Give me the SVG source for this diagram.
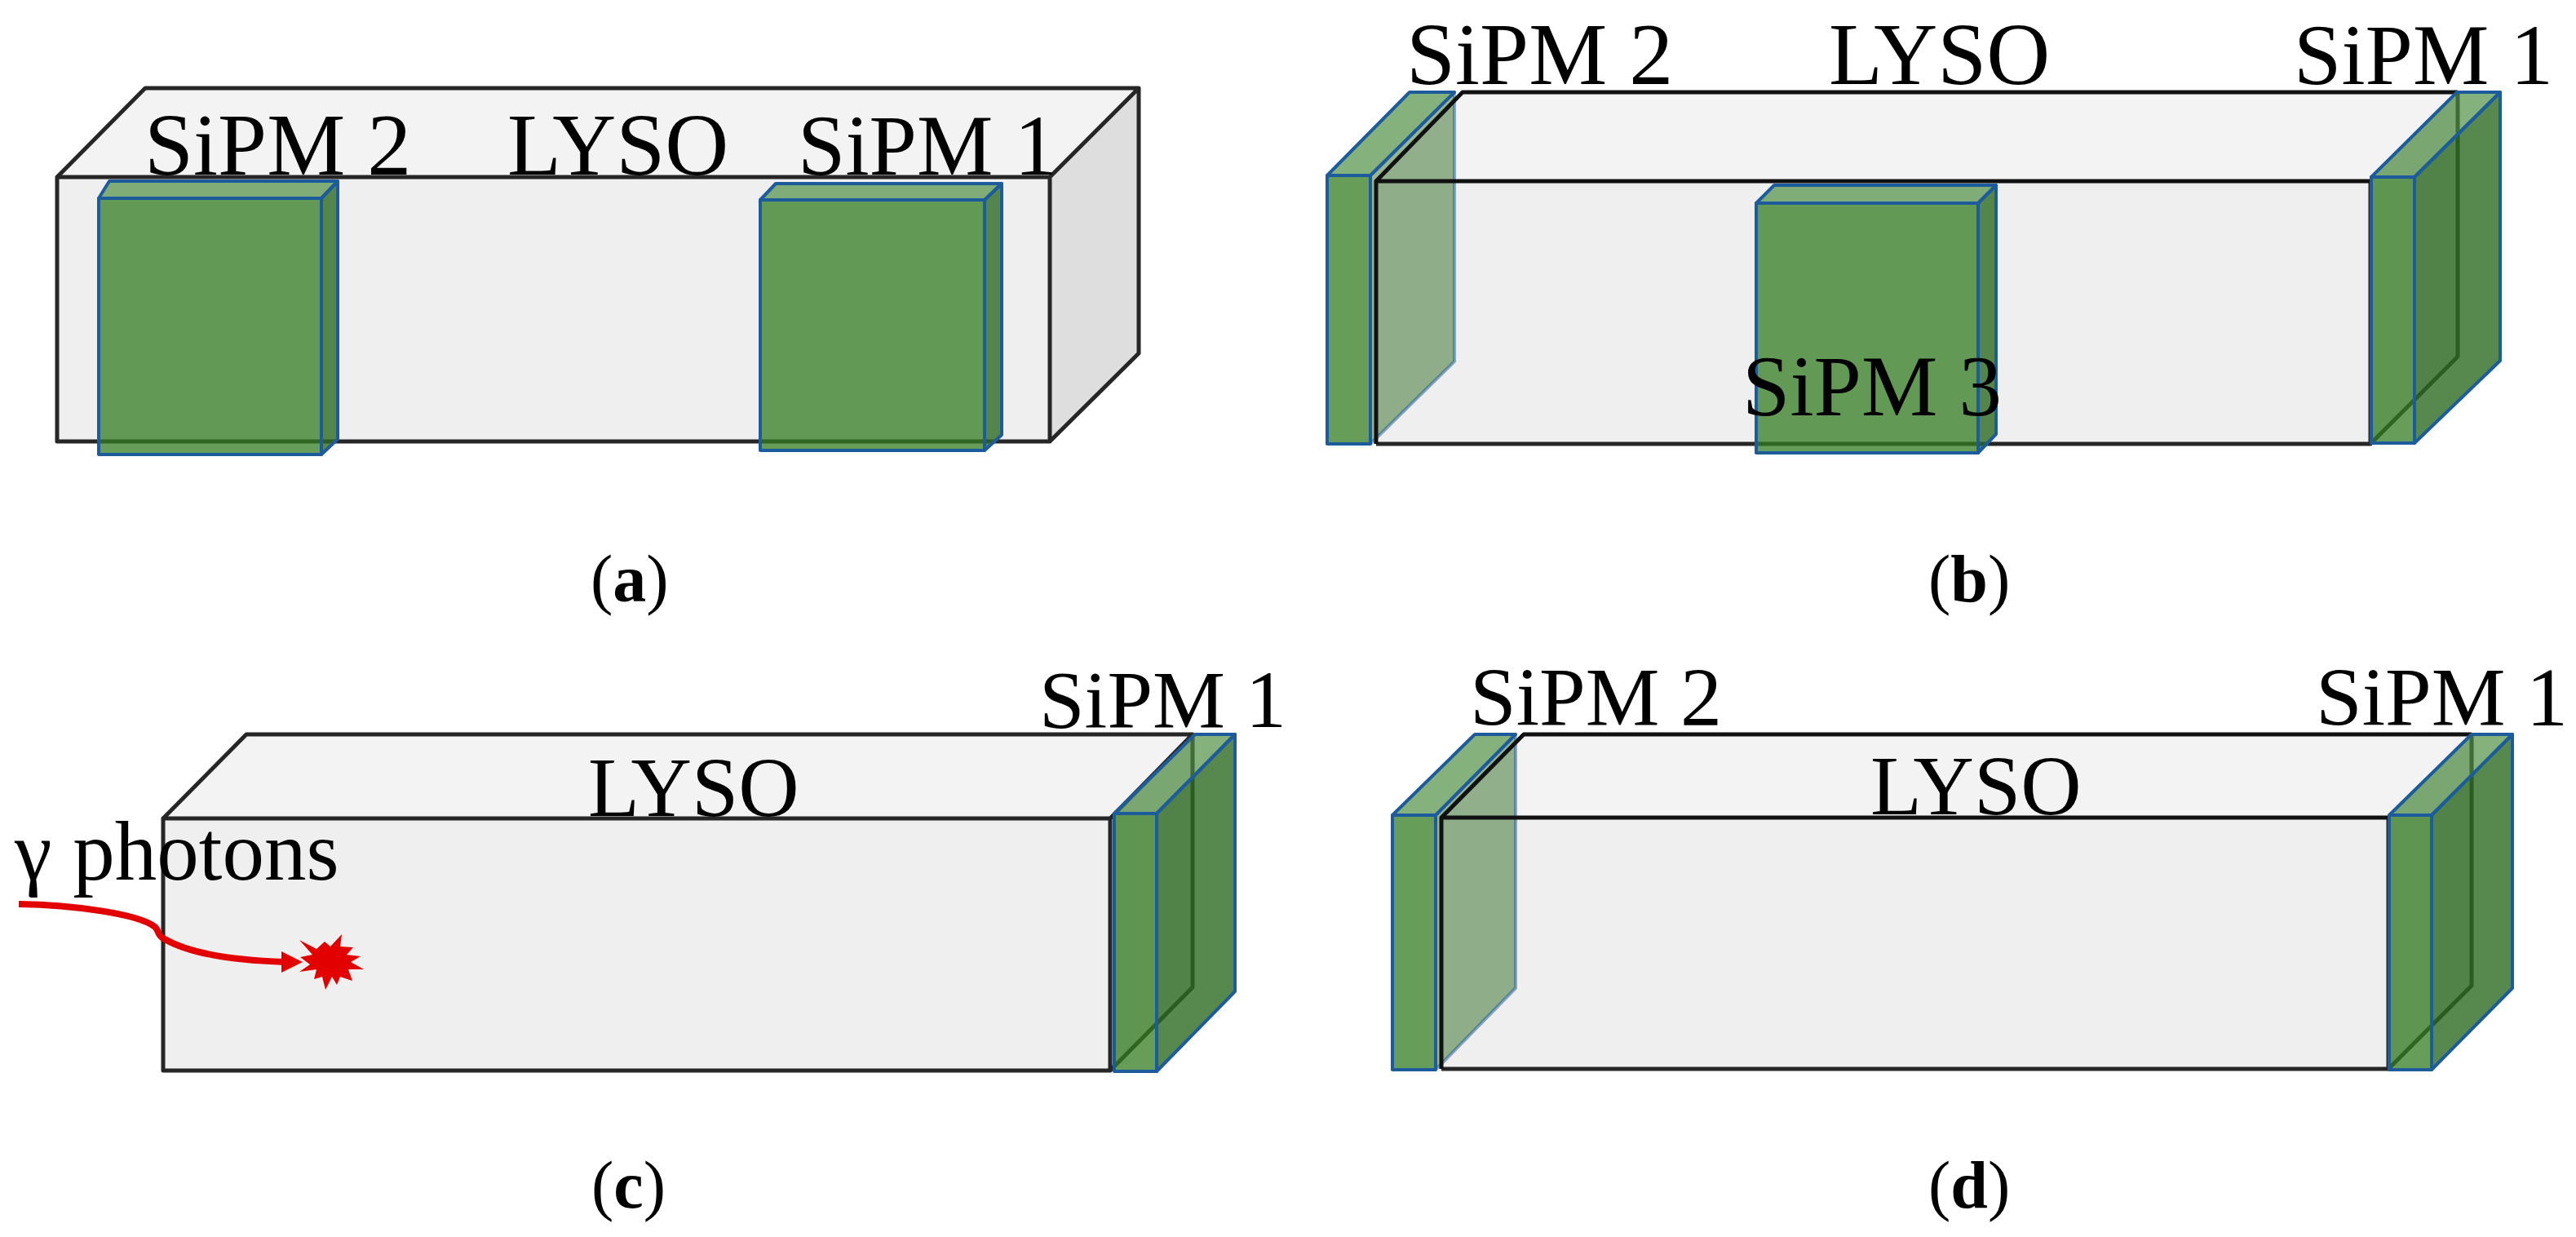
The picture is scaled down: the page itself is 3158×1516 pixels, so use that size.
<svg xmlns="http://www.w3.org/2000/svg" width="3158" height="1516" viewBox="0 0 3158 1516">
<style>
text{font-family:"Liberation Serif","Times New Roman",serif;fill:#000}
.xl{font-size:108px}.l{font-size:105px}.n{font-size:103px}.m{font-size:102px}.c{font-size:82px}
.f{fill:#efefef}.t{fill:#f3f3f3}.s{fill:#dedede}
.e{fill:none;stroke:#262626;stroke-width:5;stroke-linejoin:round}
.k{stroke:#111}
.gf{fill:#337e22;fill-opacity:.75;stroke:#1d5c9c;stroke-width:4;stroke-linejoin:round}
.gt{fill:#4a8c3e;fill-opacity:.68;stroke:#1d5c9c;stroke-width:4;stroke-linejoin:round}
.gs{fill:#2d6b22;fill-opacity:.8;stroke:#1d5c9c;stroke-width:4;stroke-linejoin:round}
.gb{fill:#2d6b22;fill-opacity:.5;stroke:#1d5c9c;stroke-opacity:.5;stroke-width:4;stroke-linejoin:round}
</style>
<g id="panel-a">
<g id="a-lyso">
<polygon class="t" points="70,217 178,108 1396,108 1287,217"/>
<polygon class="s" points="1287,217 1396,108 1396,433 1287,541"/>
<rect class="f" x="70" y="217" width="1217" height="324"/>
<path class="e" d="M70,217H1287V541H70ZM70,217L178,108H1396L1287,217M1396,108V433L1287,541"/>
</g>
<g id="a-sipm2">
<polygon class="gs" points="394,243 414,222 414,538 394,557"/>
<polygon class="gt" points="121,243 134,222 414,222 394,243"/>
<rect class="gf" x="121" y="243" width="273" height="314"/>
</g>
<g id="a-sipm1">
<polygon class="gs" points="1207,245 1228,225 1228,533 1207,552"/>
<polygon class="gt" points="932,245 951,225 1228,225 1207,245"/>
<rect class="gf" x="932" y="245" width="275" height="307"/>
</g>
<text class="xl" x="177" y="214">SiPM 2</text>
<text class="xl" x="622" y="214">LYSO</text>
<text class="l" x="978" y="214">SiPM 1</text>
<text class="c" x="724" y="737">(<tspan font-weight="bold">a</tspan>)</text>
</g>
<g id="panel-b">
<g id="b-lyso">
<polygon class="t" points="1687,222 1793,113 3013,113 2906,222"/>
<polygon class="s" points="2906,222 3013,113 3013,437 2906,544"/>
<rect class="f" x="1687" y="222" width="1219" height="322"/>
<path class="e" d="M1687,544H2906V222M2906,544L3013,437V113"/>
</g>
<g id="b-sipm2">
<polygon class="gb" points="1680,215 1783,113 1783,443 1680,544"/>
<polygon class="gt" points="1627,215 1728,113 1783,113 1680,215"/>
<rect class="gf" x="1627" y="215" width="53" height="329"/>
</g>
<path class="e k" d="M1687,544V222H2906M1687,222L1793,113H3013"/>
<g id="b-sipm1">
<polygon class="gs" points="2960,217 3065,113 3065,442 2960,543"/>
<polygon class="gt" points="2907,217 3012,113 3065,113 2960,217"/>
<rect class="gf" x="2907" y="217" width="53" height="326"/>
</g>
<g id="b-sipm3">
<polygon class="gs" points="2425,249 2447,227 2447,532 2425,555"/>
<polygon class="gt" points="2153,249 2175,227 2447,227 2425,249"/>
<rect class="gf" x="2153" y="249" width="272" height="306"/>
</g>
<text class="xl" x="1724" y="103">SiPM 2</text>
<text class="xl" x="2242" y="103">LYSO</text>
<text class="l" x="2812" y="103">SiPM 1</text>
<text class="l" x="2136" y="509">SiPM 3</text>
<text class="c" x="2364" y="737">(<tspan font-weight="bold">b</tspan>)</text>
</g>
<g id="panel-c">
<g id="c-lyso">
<polygon class="t" points="200,1003 302,900 1462,900 1361,1003"/>
<polygon class="s" points="1361,1003 1462,900 1462,1210 1361,1312"/>
<rect class="f" x="200" y="1003" width="1161" height="309"/>
<path class="e" d="M200,1003H1361V1312H200ZM200,1003L302,900H1462L1361,1003M1462,900V1210L1361,1312"/>
</g>
<g id="c-sipm1">
<polygon class="gs" points="1418,997 1514,900 1514,1215 1418,1313"/>
<polygon class="gt" points="1366,997 1465,900 1514,900 1418,997"/>
<rect class="gf" x="1366" y="997" width="52" height="316"/>
</g>
<text class="m" x="1274" y="891" style="font-size:100px">SiPM 1</text>
<text class="n" x="721" y="1000">LYSO</text>
<text class="n" x="18" y="1078">γ photons</text>
<g id="connectors">
<path d="M23,1108C90,1109 170,1120 190,1136C196,1142 192,1146 202,1151C235,1170 290,1177 350,1179" fill="none" stroke="#e30000" stroke-width="8"/>
<polygon points="345,1166 371,1179 345,1192" fill="#e30000"/>
</g>
<polygon id="c-burst" fill="#e30000" points="367,1152 388,1163 398,1154 405,1160 419,1145 417,1160 433,1161 425,1170 442,1172 430,1179 446,1188 427,1188 432,1202 417,1197 413,1207 407,1197 399,1213 395,1197 385,1200 388,1188 367,1191 380,1182 368,1173 383,1170"/>
<text class="c" x="725" y="1480">(<tspan font-weight="bold">c</tspan>)</text>
</g>
<g id="panel-d">
<g id="d-lyso">
<polygon class="t" points="1767,1002 1868,900 3030,900 2928,1002"/>
<polygon class="s" points="2928,1002 3030,900 3030,1208 2928,1310"/>
<rect class="f" x="1767" y="1002" width="1161" height="308"/>
<path class="e" d="M1767,1310H2928V1002M2928,1310L3030,1208V900"/>
</g>
<g id="d-sipm2">
<polygon class="gb" points="1760,999 1858,900 1858,1211 1760,1311"/>
<polygon class="gt" points="1707,999 1808,900 1858,900 1760,999"/>
<rect class="gf" x="1707" y="999" width="53" height="312"/>
</g>
<path class="e k" d="M1767,1310V1002H2928M1767,1002L1868,900H3030"/>
<g id="d-sipm1">
<polygon class="gs" points="2981,999 3080,900 3080,1211 2981,1311"/>
<polygon class="gt" points="2929,999 3030,900 3080,900 2981,999"/>
<rect class="gf" x="2929" y="999" width="52" height="312"/>
</g>
<text class="m" x="1802" y="889">SiPM 2</text>
<text class="m" x="2839" y="889">SiPM 1</text>
<text class="n" x="2293" y="998">LYSO</text>
<text class="c" x="2364" y="1480">(<tspan font-weight="bold">d</tspan>)</text>
</g>
</svg>
